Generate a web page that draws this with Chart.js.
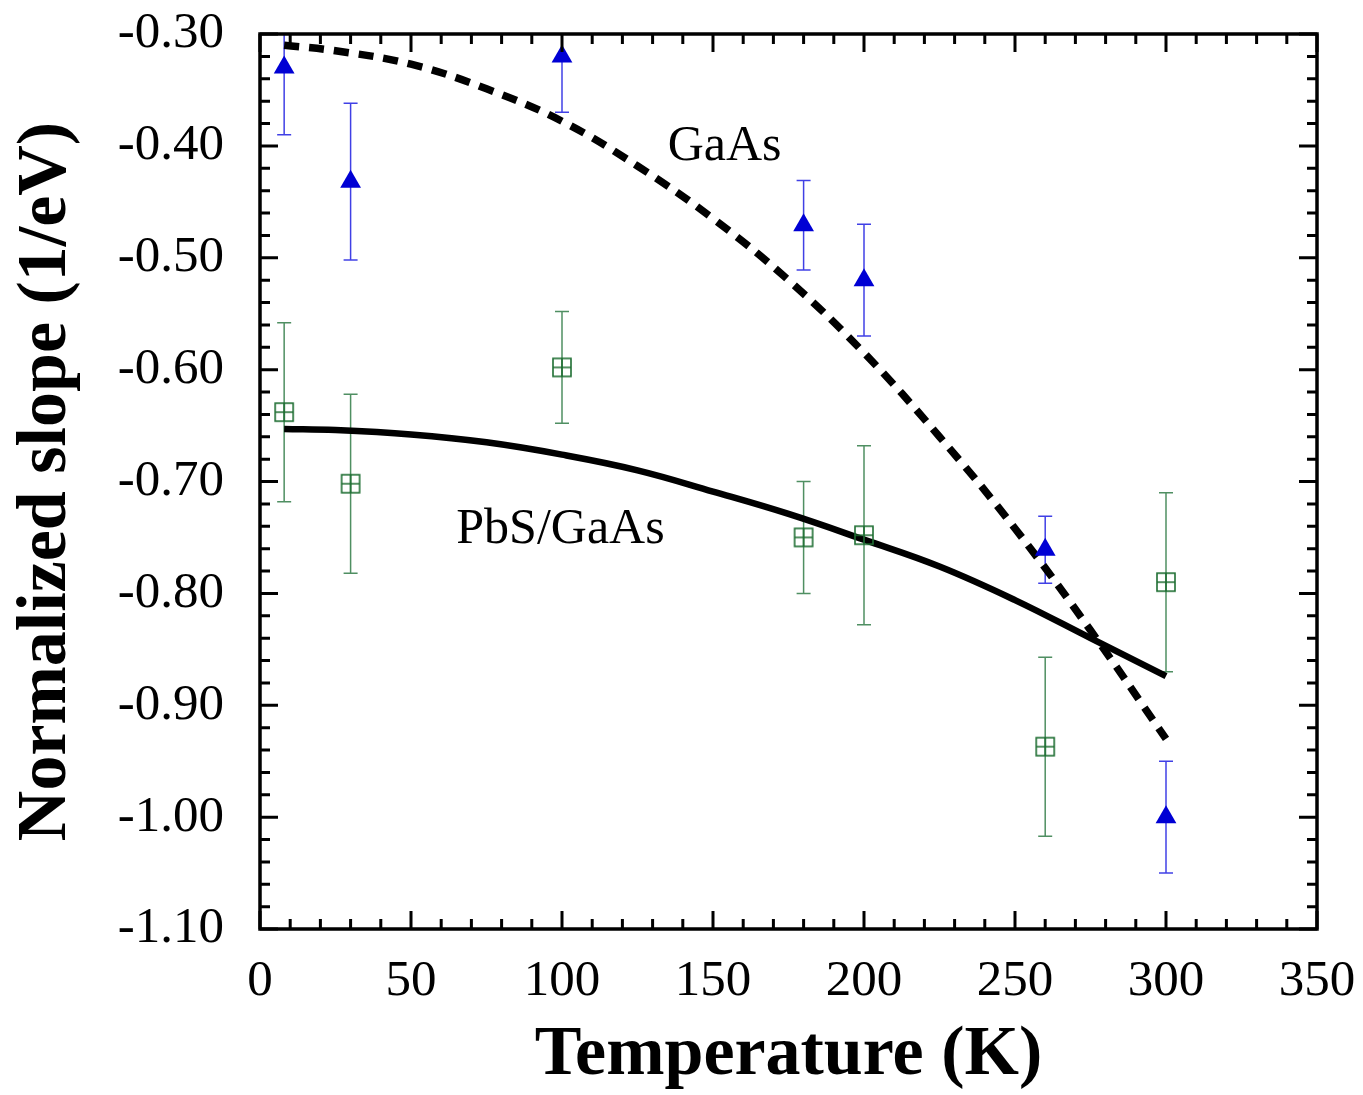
<!DOCTYPE html>
<html>
<head>
<meta charset="utf-8">
<script src="https://cdn.jsdelivr.net/npm/chart.js@4.4.0/dist/chart.umd.min.js"></script>
<style>
    body { margin: 0; background: #fff; }
    #wrap { width: 1363px; height: 1095px; }
</style>
</head>
<body>
<div id="wrap"><canvas id="slopeChart" width="1363" height="1095"></canvas></div>
<script>
// measured points (K, 1/eV)
const temps = [8, 30, 100, 180, 200, 260, 300]
const gaasSlope = [-0.33, -0.432, -0.32, -0.471, -0.520, -0.761, -1.000]
const gaasErr = [0.06, 0.07, 0.05, 0.04, 0.05, 0.03, 0.05]
const pbsSlope = [-0.638, -0.702, -0.598, -0.750, -0.748, -0.937, -0.790]
const pbsErr = [0.08, 0.08, 0.05, 0.05, 0.08, 0.08, 0.08]

// model curves
const fitTemps = [8, 25, 50, 75, 100, 125, 150, 175, 200, 225, 250, 275, 300]
const gaasFit = [-0.310, -0.315, -0.327, -0.349, -0.378, -0.418, -0.465, -0.520, -0.585, -0.660, -0.742, -0.833, -0.930]
const pbsFit = [-0.653, -0.654, -0.658, -0.665, -0.676, -0.690, -0.709, -0.729, -0.752, -0.776, -0.806, -0.840, -0.874]

// annotations
const curveLabels = [
    { text: 'GaAs', x: 135, y: -0.413 },
    { text: 'PbS/GaAs', x: 65, y: -0.755 }
]

const SERIF = '"Liberation Serif", "Times New Roman", serif'
const BLUE = '#0000d4'
const GREEN = '#1f6e32'

const toPoints = (xs, ys) => xs.map((x, i) => ({ x: x, y: ys[i] }))
const isMajorX = v => Math.round(v) % 50 === 0
const isMajorY = v => Math.abs(Math.round(v * 100) % 10) === 0

// open square with a cross inside
const squareCross = (() => {
    const c = document.createElement('canvas')
    c.width = 22
    c.height = 22
    const g = c.getContext('2d')
    g.strokeStyle = GREEN
    g.lineWidth = 1.6
    g.strokeRect(2, 2, 18, 18)
    g.beginPath()
    g.moveTo(2, 11); g.lineTo(20, 11)
    g.moveTo(11, 2); g.lineTo(11, 20)
    g.stroke()
    return c
})()

const errorBars = {
    id: 'errorBars',
    beforeDatasetsDraw(chart) {
        const { ctx, chartArea, scales } = chart
        const sets = [
            { ys: gaasSlope, err: gaasErr, color: 'rgba(0, 0, 220, 0.75)' },
            { ys: pbsSlope, err: pbsErr, color: 'rgba(20, 105, 45, 0.75)' }
        ]
        ctx.save()
        ctx.beginPath()
        ctx.rect(chartArea.left, chartArea.top, chartArea.right - chartArea.left, chartArea.bottom - chartArea.top)
        ctx.clip()
        ctx.lineWidth = 1.5
        sets.forEach(s => {
            ctx.strokeStyle = s.color
            temps.forEach((t, i) => {
                const px = scales.x.getPixelForValue(t)
                const top = scales.y.getPixelForValue(s.ys[i] + s.err[i])
                const bot = scales.y.getPixelForValue(s.ys[i] - s.err[i])
                ctx.beginPath()
                ctx.moveTo(px, top); ctx.lineTo(px, bot)
                ctx.moveTo(px - 7, top); ctx.lineTo(px + 7, top)
                ctx.moveTo(px - 7, bot); ctx.lineTo(px + 7, bot)
                ctx.stroke()
            })
        })
        ctx.restore()
    }
}

const frameAndTicks = {
    id: 'frameAndTicks',
    afterDraw(chart) {
        const { ctx, chartArea: a, scales } = chart
        ctx.save()
        ctx.strokeStyle = '#000'
        ctx.lineWidth = 3
        ctx.beginPath()
        scales.x.ticks.forEach(tk => {
            const px = scales.x.getPixelForValue(tk.value)
            const len = isMajorX(tk.value) ? 18 : 10
            ctx.moveTo(px, a.bottom); ctx.lineTo(px, a.bottom - len)
            ctx.moveTo(px, a.top); ctx.lineTo(px, a.top + len)
        })
        scales.y.ticks.forEach(tk => {
            const py = scales.y.getPixelForValue(tk.value)
            const len = isMajorY(tk.value) ? 18 : 10
            ctx.moveTo(a.left, py); ctx.lineTo(a.left + len, py)
            ctx.moveTo(a.right, py); ctx.lineTo(a.right - len, py)
        })
        ctx.stroke()
        ctx.lineWidth = 3.5
        ctx.strokeRect(a.left, a.top, a.right - a.left, a.bottom - a.top)

        ctx.fillStyle = '#000'
        ctx.font = '50px ' + SERIF
        ctx.textAlign = 'left'
        ctx.textBaseline = 'alphabetic'
        curveLabels.forEach(l => {
            ctx.fillText(l.text, scales.x.getPixelForValue(l.x), scales.y.getPixelForValue(l.y))
        })
        ctx.restore()
    }
}

const ctx = document.getElementById('slopeChart').getContext('2d')
const slopeChart = new Chart(ctx, {
    type: 'scatter',
    data: {
        datasets: [
            {
                label: 'GaAs data',
                data: toPoints(temps, gaasSlope),
                pointStyle: 'triangle',
                pointRadius: 12,
                backgroundColor: BLUE,
                borderColor: BLUE,
                borderWidth: 0,
                order: 0
            },
            {
                label: 'PbS/GaAs data',
                data: toPoints(temps, pbsSlope),
                pointStyle: squareCross,
                order: 1
            },
            {
                type: 'line',
                label: 'GaAs fit',
                data: toPoints(fitTemps, gaasFit),
                borderColor: '#000',
                borderWidth: 7.5,
                borderDash: [15, 10],
                tension: 0.4,
                pointRadius: 0,
                fill: false,
                order: 2
            },
            {
                type: 'line',
                label: 'PbS/GaAs fit',
                data: toPoints(fitTemps, pbsFit),
                borderColor: '#000',
                borderWidth: 6.5,
                tension: 0.4,
                pointRadius: 0,
                fill: false,
                order: 3
            }
        ]
    },
    options: {
        responsive: false,
        animation: false,
        layout: { padding: { top: 34, right: 46, left: 0, bottom: 0 } },
        plugins: {
            legend: { display: false },
            tooltip: { enabled: false }
        },
        scales: {
            x: {
                type: 'linear',
                min: 0,
                max: 350,
                grid: { display: false },
                border: { display: false },
                afterFit: scale => {
                    scale.height = 166
                    scale.paddingLeft = 0
                    scale.paddingRight = 0
                },
                ticks: {
                    stepSize: 10,
                    autoSkip: false,
                    maxRotation: 0,
                    padding: 14,
                    color: '#000',
                    font: { family: SERIF, size: 51 },
                    callback: v => isMajorX(v) ? String(v) : ''
                },
                title: {
                    display: true,
                    text: 'Temperature (K)',
                    color: '#000',
                    font: { family: SERIF, size: 70, weight: 'bold', lineHeight: 1.0 },
                    padding: { top: 0, bottom: 4 }
                }
            },
            y: {
                type: 'linear',
                min: -1.1,
                max: -0.3,
                grid: { display: false },
                border: { display: false },
                afterFit: scale => {
                    scale.width = 260
                    scale.paddingTop = 0
                    scale.paddingBottom = 0
                },
                ticks: {
                    stepSize: 0.02,
                    autoSkip: false,
                    padding: 28,
                    color: '#000',
                    font: { family: SERIF, size: 51 },
                    callback: v => isMajorY(v) ? v.toFixed(2) : ''
                },
                title: {
                    display: true,
                    text: 'Normalized slope (1/eV)',
                    color: '#000',
                    font: { family: SERIF, size: 70, weight: 'bold', lineHeight: 1.0 },
                    padding: { top: 12, bottom: 0 }
                }
            }
        }
    },
    plugins: [errorBars, frameAndTicks]
})
</script>
</body>
</html>
